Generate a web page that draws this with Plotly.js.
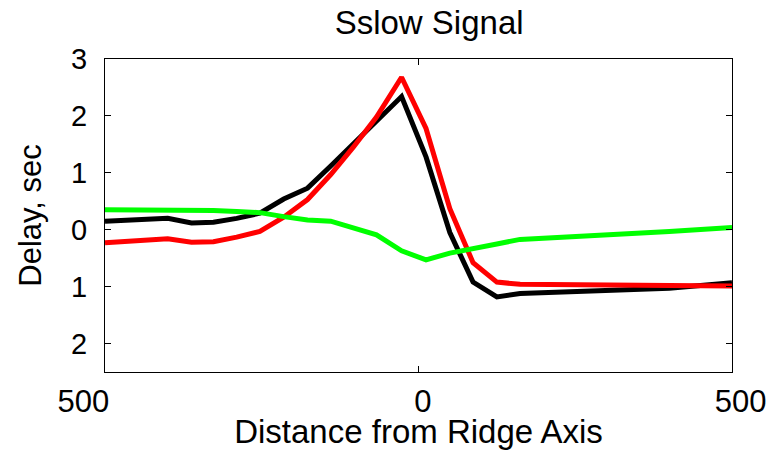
<!DOCTYPE html>
<html>
<head>
<meta charset="utf-8">
<script src="https://cdn.plot.ly/plotly-3.0.1.min.js"></script>
<style>html,body{margin:0;padding:0;background:#fff;}#chart{width:776px;height:450px;}</style>
</head>
<body>
<div id="chart"></div>
<script>
// Distance from ridge axis (shared by all series)
var distance = [-500, -400, -362, -327, -290, -253, -215, -177, -140, -104, -67, -27, 12, 50, 87, 125, 162, 235, 310, 400, 500];
// Delay series (sec)
var delayBlack = [0.15, 0.20, 0.12, 0.13, 0.20, 0.29, 0.54, 0.73, 1.12, 1.50, 1.90, 2.34, 1.28, -0.05, -0.92, -1.18, -1.12, -1.09, -1.06, -1.03, -0.93];
var delayRed   = [-0.23, -0.16, -0.22, -0.21, -0.13, -0.03, 0.22, 0.53, 0.97, 1.45, 1.98, 2.68, 1.78, 0.37, -0.58, -0.92, -0.96, -0.96, -0.97, -0.98, -0.99];
var delayGreen = [0.35, 0.35, 0.34, 0.34, 0.32, 0.30, 0.23, 0.17, 0.15, 0.04, -0.09, -0.37, -0.53, -0.41, -0.32, -0.25, -0.17, -0.13, -0.09, -0.03, 0.04];
// Tick labels (as printed in the reference, minus signs absent)
var xTickVals = [-500, 0, 500];
var xTickText = ["500\u00a0\u00a0\u00a0\u00a0\u00a0", "\u00a00", "\u00a0\u00a0500"];
var yTickVals = [3, 2, 1, 0, -1, -2];
var yTickText = ["3", "2", "1", "0", "1", "2"];

var font = "Liberation Sans, Arial, Helvetica, sans-serif";

var traces = [
  {x: distance, y: delayBlack, mode: "lines", line: {color: "#000000", width: 5}},
  {x: distance, y: delayRed, mode: "lines", line: {color: "#ff0000", width: 5}},
  {x: distance, y: delayGreen, mode: "lines", line: {color: "#00ff00", width: 5}}
];

var layout = {
  width: 776, height: 450,
  margin: {l: 105, r: 44, t: 59, b: 78, pad: 0},
  paper_bgcolor: "#ffffff", plot_bgcolor: "#ffffff",
  showlegend: false,
  font: {family: font, color: "#000000"},
  title: {text: "Sslow Signal", font: {family: font, size: 33, color: "#000"},
          xref: "container", x: 0.553, xanchor: "center",
          yref: "container", y: 0.95, yanchor: "middle"},
  xaxis: {
    range: [-500, 500], tickmode: "array", tickvals: xTickVals, ticktext: xTickText,
    ticks: "inside", ticklen: 6, tickcolor: "#000", tickwidth: 1,
    showline: true, linecolor: "#000", linewidth: 1, mirror: "ticks",
    showgrid: false, zeroline: false,
    tickfont: {family: font, size: 31, color: "#000"}, ticklabelstandoff: 2,
    title: {text: "Distance from Ridge Axis", font: {family: font, size: 33, color: "#000"}, standoff: 0}
  },
  yaxis: {
    range: [-2.5, 3], tickmode: "array", tickvals: yTickVals, ticktext: yTickText,
    ticks: "inside", ticklen: 6, tickcolor: "#000", tickwidth: 1,
    showline: true, linecolor: "#000", linewidth: 1, mirror: "ticks",
    showgrid: false, zeroline: false,
    tickfont: {family: font, size: 29, color: "#000"}, ticklabelstandoff: 11,
    title: {text: "Delay, sec", font: {family: font, size: 31, color: "#000"}, standoff: 20}
  }
};

Plotly.newPlot("chart", traces, layout, {staticPlot: true, displayModeBar: false});
</script>
</body>
</html>
